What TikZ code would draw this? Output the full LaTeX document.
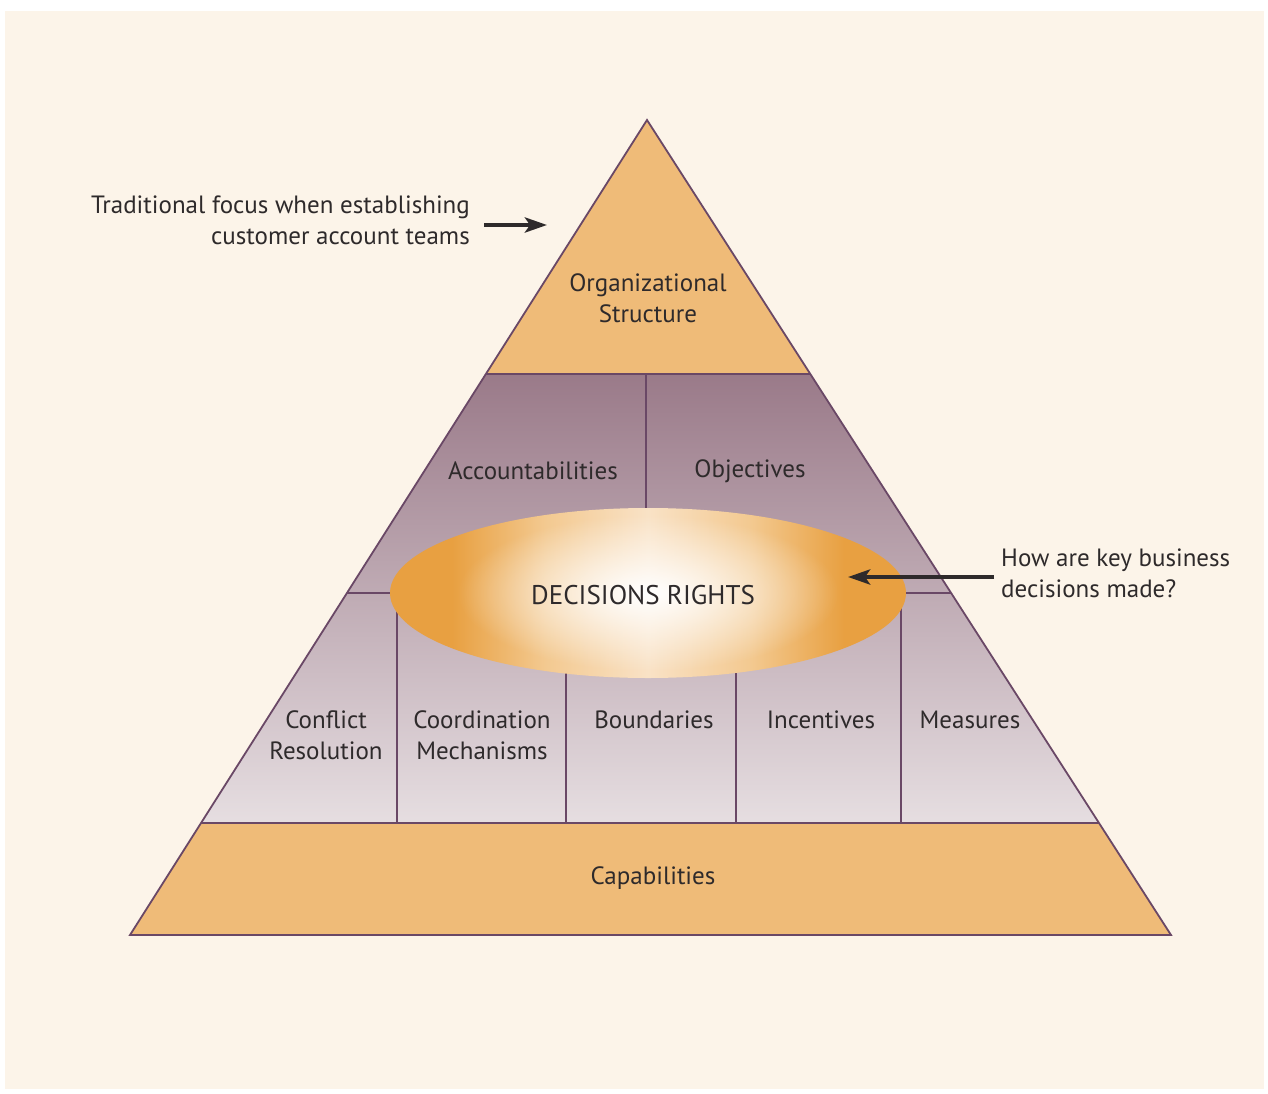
\documentclass[tikz,border=0pt]{standalone}
\usepackage{fontspec}
\setmainfont{PT Sans}
\usetikzlibrary{arrows.meta,fadings}

\definecolor{paper}{HTML}{FCF4E9}
\definecolor{tan}{HTML}{EFBB78}
\definecolor{edge}{HTML}{6A4866}
\definecolor{plumtop}{HTML}{9A7A89}
\definecolor{plumbot}{HTML}{E6DEE1}
\definecolor{eorange}{HTML}{E8A041}
\definecolor{epeach}{HTML}{F3C990}
\definecolor{ecentre}{HTML}{F9E2C6}
\definecolor{ink}{HTML}{2E2A2B}

% orange rim on both sides, light in the middle
\pgfdeclarehorizontalshading{rimglow}{100bp}{%
  color(0bp)=(eorange); color(25bp)=(eorange); color(31bp)=(eorange);
  color(40bp)=(epeach); color(50bp)=(ecentre);
  color(60bp)=(epeach); color(69bp)=(eorange); color(75bp)=(eorange);
  color(100bp)=(eorange)}
\tikzfading[name=softcore, inner color=transparent!0, outer color=transparent!100]

\tikzset{
  outline/.style={draw=edge, line width=1.8pt, line join=miter},
  divider/.style={draw=edge, line width=1.8pt},
  lbl/.style={text=ink, align=center, font=\fontsize{25}{31}\selectfont, inner sep=0pt},
  pointer/.style={draw=ink, line width=4.5pt, -{Stealth[length=22pt, width=15pt, inset=5pt]}},
}

\begin{document}
\begin{tikzpicture}[x=1pt, y=-1pt]
\useasboundingbox (0,0) rectangle (1268,1094);
\fill[white] (0,0) rectangle (1268,1094);
\fill[paper] (5,11) rectangle (1264,1089);

% pyramid corners and band edges
\coordinate (apex) at (647,120);
\coordinate (bl) at (130,935);
\coordinate (br) at (1171,935);
\coordinate (sl) at (486,374);
\coordinate (sr) at (810,374);
\coordinate (ml) at (347,593);
\coordinate (mr) at (951,593);
\coordinate (cl) at (201,823);
\coordinate (cr) at (1099,823);

% purple middle band
\shade[top color=plumtop, bottom color=plumbot] (sl) -- (sr) -- (cr) -- (cl) -- cycle;
% orange top and base
\fill[tan] (apex) -- (sr) -- (sl) -- cycle;
\fill[tan] (cl) -- (cr) -- (br) -- (bl) -- cycle;

% band dividers
\draw[divider] (sl) -- (sr);
\draw[divider] (cl) -- (cr);
\draw[divider] (ml) -- (mr);
\coordinate (u1t) at (646,374); \coordinate (u1b) at (646,593);
\draw[divider] (u1t) -- (u1b);
\foreach \xx in {397,566,736,901}{
  \draw[divider] (\xx,593) -- (\xx,823);
}

% outer outline
\draw[outline] (apex) -- (br) -- (bl) -- cycle;

% central ellipse
\path[shading=rimglow] (648,593) ellipse [x radius=258, y radius=85];
\fill[white, path fading=softcore] (648,593) ellipse [x radius=190, y radius=78];

% labels
\node[lbl] (org) at (648,298) {Organizational\\Structure};
\node[lbl] (acc) at (533,471) {Accountabilities};
\node[lbl] (obj) at (750,471) {Objectives};
\node[lbl, font=\fontsize{27}{31}\selectfont] (dec) at (643,595) {DECISIONS RIGHTS};
\node[lbl] (con) at (326,735) {Conflict\\Resolution};
\node[lbl] (coo) at (482,735) {Coordination\\Mechanisms};
\node[lbl] (bou) at (654,720) {Boundaries};
\node[lbl] (inc) at (821,720) {Incentives};
\node[lbl] (mea) at (970,720) {Measures};
\node[lbl] (cap) at (653,878) {Capabilities};

\node[lbl, align=right, anchor=east] (trad) at (470,220)
  {Traditional focus when establishing\\customer account teams};
\node[lbl, align=left, anchor=west] (how) at (1001,573)
  {How are key business\\decisions made?};

% pointers
\coordinate (ta) at (484,225);
\coordinate (tb) at (547,225);
\draw[pointer] (ta) -- (tb);
\coordinate (ra) at (994,577);
\coordinate (rb) at (848,577);
\draw[pointer] (ra) -- (rb);
\end{tikzpicture}
\end{document}
